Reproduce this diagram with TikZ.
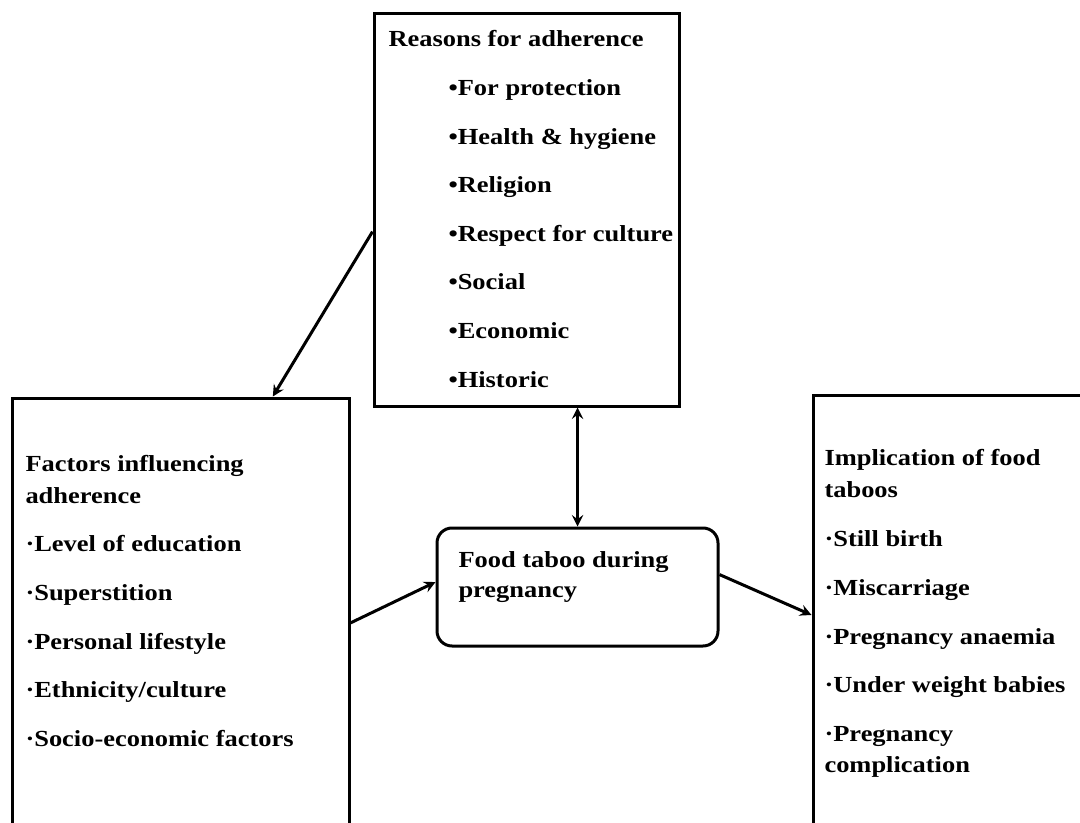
\documentclass[tikz,border=0pt]{standalone}
\usepackage{fontspec}
\setmainfont{Liberation Serif}[FakeStretch=1.15]
\usetikzlibrary{arrows}
\begin{document}
\begin{tikzpicture}[x=0.5pt,y=-0.5pt,>=stealth,line width=1.5pt,
    box/.style={draw,line width=1.5pt,inner sep=0pt},
    txt/.style={anchor=base west,inner sep=0pt,font=\fontsize{11.5}{14}\selectfont\bfseries}]
    \useasboundingbox (0,0) rectangle (1080,823);
    % the four boxes
    \node[box,minimum width=152.5pt,minimum height=196pt] (reasons) at (526.5,210) {};
    \node[box,minimum width=168.5pt,minimum height=216pt] (factors) at (180.5,614) {};
    \node[box,minimum width=141pt,minimum height=217.5pt] (impl) at (954,612.5) {};
    \node[box,rounded corners=7.5pt,minimum width=140.5pt,minimum height=59pt] (food) at (577.5,587) {};
    % connectors
    \draw[->] (reasons.188) -- (factors.67);
    \draw[<->] (food.north) -- (food.north |- reasons.south);
    \draw[->] (factors.357) -- (food.178);
    \draw[->] (food.5) -- (impl.181);
    % texts
    \node[txt] (rtitle) at (387,47) {Reasons for adherence};
    \foreach \t [count=\i from 0] in {For protection,Health \& hygiene,Religion,Respect for culture,Social,Economic,Historic}
        \node[txt] (r\i) at (447,{96+48.5*\i}) {•\t};
    \node[txt] (ftitle1) at (24,471) {Factors influencing};
    \node[txt] (ftitle2) at (24,503) {adherence};
    \foreach \t [count=\i from 0] in {Level of education,Superstition,Personal lifestyle,Ethnicity/culture,Socio-economic factors}
        \node[txt] (f\i) at (24,{551.5+48.75*\i}) {·\t};
    \node[txt] (ititle1) at (823,465) {Implication of food};
    \node[txt] (ititle2) at (823,497) {taboos};
    \foreach \t [count=\i from 0] in {Still birth,Miscarriage,Pregnancy anaemia,Under weight babies,Pregnancy}
        \node[txt] (i\i) at (823,{546.5+48.8*\i}) {·\t};
    \node[txt] (i5) at (823,772) {complication};
    \node[txt] (ftext1) at (457,567) {Food taboo during};
    \node[txt] (ftext2) at (457,597) {pregnancy};
\end{tikzpicture}
\end{document}
